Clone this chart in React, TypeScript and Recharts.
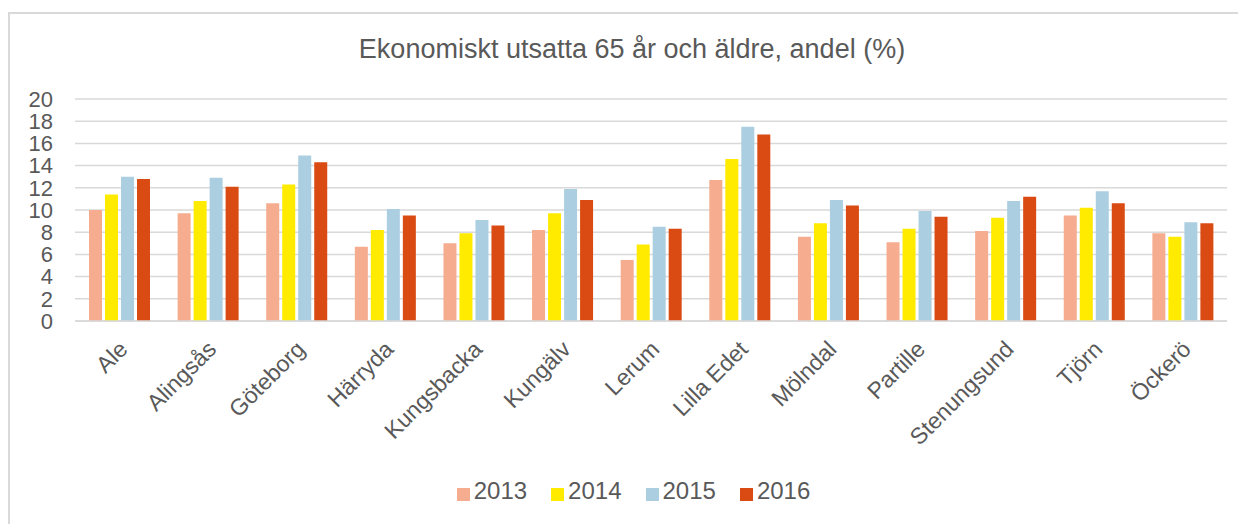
import { BarChart, Bar, XAxis, YAxis, CartesianGrid, Legend } from 'recharts';

const municipalities = [
  'Ale', 'Alingsås', 'Göteborg', 'Härryda', 'Kungsbacka', 'Kungälv', 'Lerum',
  'Lilla Edet', 'Mölndal', 'Partille', 'Stenungsund', 'Tjörn', 'Öckerö',
];

const values2013 = [10.0, 9.7, 10.6, 6.7, 7.0, 8.2, 5.5, 12.7, 7.6, 7.1, 8.1, 9.5, 7.9];
const values2014 = [11.4, 10.8, 12.3, 8.2, 7.9, 9.7, 6.9, 14.6, 8.8, 8.3, 9.3, 10.2, 7.6];
const values2015 = [13.0, 12.9, 14.9, 10.1, 9.1, 11.9, 8.5, 17.5, 10.9, 9.9, 10.8, 11.7, 8.9];
const values2016 = [12.8, 12.1, 14.3, 9.5, 8.6, 10.9, 8.3, 16.8, 10.4, 9.4, 11.2, 10.6, 8.8];

const yTicks = [0, 2, 4, 6, 8, 10, 12, 14, 16, 18, 20];

const series = [
  { key: '2013', color: '#F6AC8E' },
  { key: '2014', color: '#FFEB00' },
  { key: '2015', color: '#ABCFE1' },
  { key: '2016', color: '#DA4A13' },
];

const data = municipalities.map((name, i) => ({
  name,
  '2013': values2013[i],
  '2014': values2014[i],
  '2015': values2015[i],
  '2016': values2016[i],
}));

const textColor = '#595959';
const font = '"Liberation Sans", Arial, sans-serif';

const AngledTick = (props: any) => {
  const { x, y, payload } = props;
  return (
    <g transform={`translate(${x + 4},${y})`}>
      <text
        transform="rotate(-45)"
        textAnchor="end"
        dy="0.35em"
        fill={textColor}
        fontSize={23}
        fontFamily={font}
      >
        {payload.value}
      </text>
    </g>
  );
};

export default function App() {
  return (
    <div style={{ position: 'relative', width: 1238, height: 516, overflow: 'hidden', fontFamily: font }}>
      <div
        style={{
          position: 'absolute',
          left: 0,
          top: 4,
          width: 1400,
          height: 700,
          border: '2px solid #d9d9d9',
          boxSizing: 'border-box',
        }}
      />
      <div
        style={{
          position: 'absolute',
          top: 26,
          left: 0,
          width: 1248,
          textAlign: 'center',
          fontSize: 27,
          color: textColor,
        }}
      >
        Ekonomiskt utsatta 65 år och äldre, andel (%)
      </div>
      <BarChart
        width={1238}
        height={516}
        data={data}
        margin={{ top: 91, right: 19, left: 0, bottom: 14 }}
        barSize={13}
        barGap={3}
        style={{ position: 'absolute', top: 0, left: 0 }}
      >
        <CartesianGrid vertical={false} stroke="#d9d9d9" strokeWidth={1.5} />
        <XAxis
          dataKey="name"
          interval={0}
          height={156}
          tick={<AngledTick />}
          tickLine={false}
          tickSize={0}
          tickMargin={24}
          axisLine={{ stroke: '#d9d9d9', strokeWidth: 1.5 }}
        />
        <YAxis
          domain={[0, 20]}
          ticks={yTicks}
          interval={0}
          width={67}
          axisLine={false}
          tickLine={false}
          tickSize={0}
          tickMargin={22}
          tick={{ fill: textColor, fontSize: 22, fontFamily: font }}
        />
        <Legend
          verticalAlign="bottom"
          height={33}
          iconType="square"
          iconSize={13}
          wrapperStyle={{ paddingLeft: 28 }}
          formatter={(value: string) => (
            <span style={{ color: textColor, fontSize: 24, fontFamily: font, marginRight: 14 }}>{value}</span>
          )}
        />
        {series.map((s) => (
          <Bar key={s.key} dataKey={s.key} fill={s.color} isAnimationActive={false} />
        ))}
      </BarChart>
    </div>
  );
}
